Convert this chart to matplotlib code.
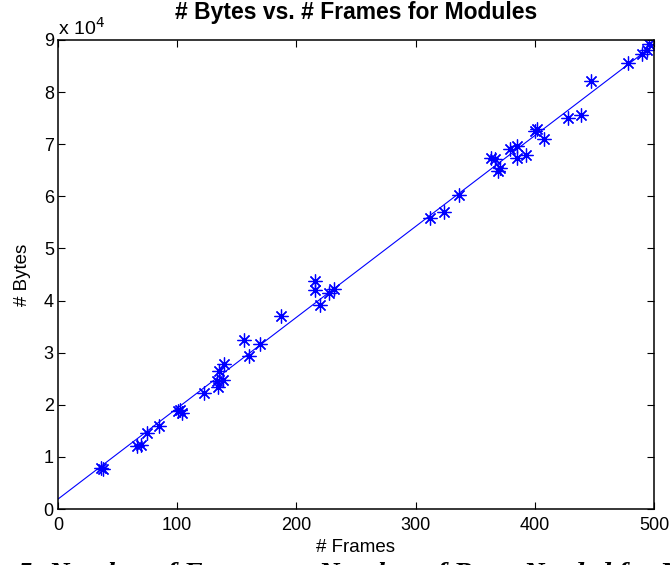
import matplotlib
matplotlib.use("Agg")
import matplotlib.pyplot as plt

# module sizes: frames vs bytes
frames = [35.8, 37.5, 66, 69.3, 75, 84.9, 100.8, 102.5, 104.2, 122.9, 133, 134.6,
          135, 138.2, 139.6, 156.3, 160.6, 169.8, 186.8, 216, 216, 220.2, 227.2,
          231.7, 312.4, 324, 336.8, 363, 366.6, 369.4, 370.8, 379.2, 384.8, 384.8,
          392.5, 400.3, 402.2, 407.6, 428.2, 438.6, 446.9, 478.5, 490.3, 494.5, 496]
nbytes = [7800, 7600, 12000, 12300, 14600, 16000, 18800, 19000, 18400, 22200,
          24600, 23400, 26400, 24800, 27800, 32400, 29300, 31700, 37000, 43700,
          42000, 39200, 41500, 42200, 55900, 57000, 60200, 67400, 67200, 64900,
          65500, 69000, 69700, 67400, 67900, 72600, 72900, 71000, 75000, 75600,
          82200, 85500, 87400, 88000, 89200]

# least-squares line endpoints
fit_x = [0, 500]
fit_y = [1900, 89100]

plt.rcParams["font.family"] = ["Liberation Sans", "DejaVu Sans"]

W, H = 670, 565
fig = plt.figure(figsize=(W / 100, H / 100), dpi=100)
ax = fig.add_axes([58 / W, 1 - 509 / H, 596 / W, 469 / H])

ax.plot(frames, nbytes, linestyle="none", marker=(8, 2, 0), ms=10,
        mec="#0000ff", mew=0.9)
ax.plot(fit_x, fit_y, "-", color="#0000ff", lw=0.8)

ax.set_xlim(0, 500)
ax.set_ylim(0, 90000)
ax.set_xticks([0, 100, 200, 300, 400, 500])
ax.set_yticks([i * 10000 for i in range(10)])
ax.set_yticklabels([str(i) for i in range(10)])
ax.tick_params(direction="in", length=5, labelsize=13, top=True, right=True,
               width=0.8)
ax.tick_params(axis="x", pad=6)
ax.tick_params(axis="y", pad=3)
for s in ax.spines.values():
    s.set_linewidth(1.1)

ax.text(0.0, 1.012, r"x 10$^{4}$", transform=ax.transAxes, fontsize=14,
        ha="left", va="baseline")
ax.set_xlabel("# Frames", fontsize=13.5, labelpad=3)
ax.set_ylabel("# Bytes", fontsize=13.5, labelpad=9)
ax.set_title("# Bytes vs. # Frames for Modules", fontsize=16.5, fontweight="bold",
             pad=15)

fig.text(18 / W, -0.028, "5: Number of Frames vs. Number of Bytes Needed for Modules",
         family="Liberation Serif", fontsize=20.5, fontweight="bold",
         style="italic", ha="left", va="baseline")

fig.savefig("out.png", dpi=100)
